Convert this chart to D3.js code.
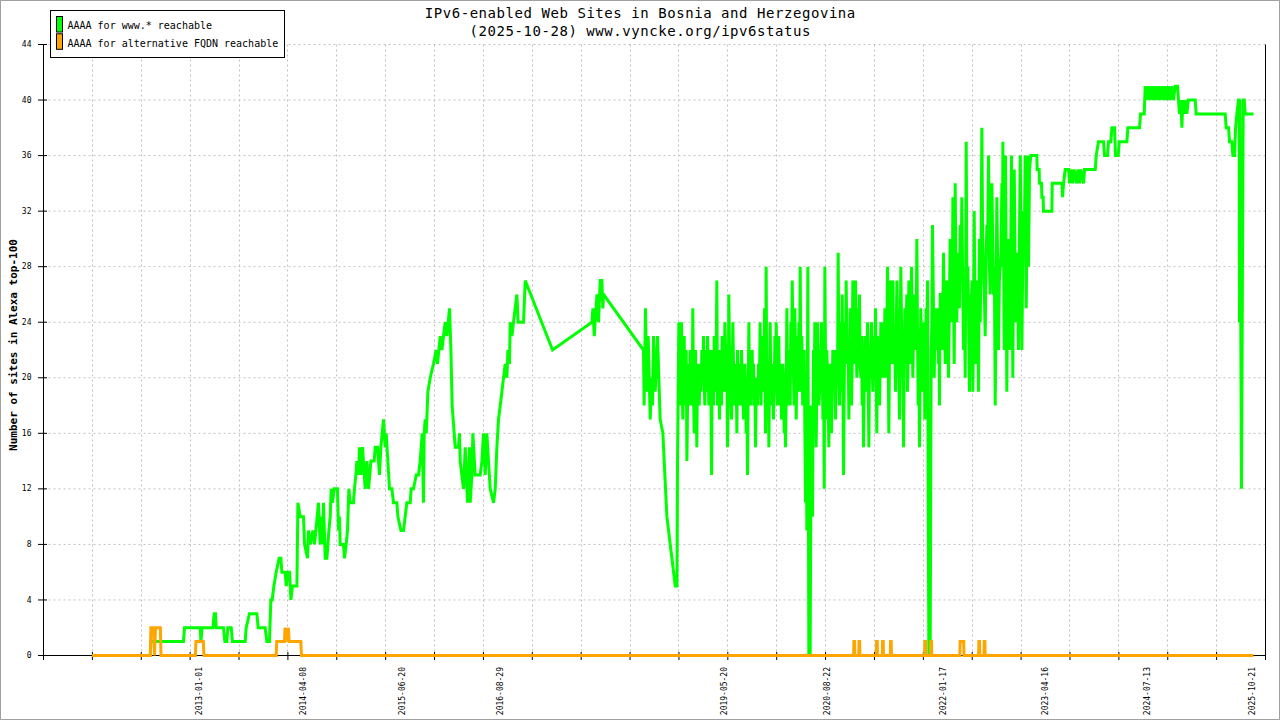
<!DOCTYPE html>
<html>
<head>
<meta charset="utf-8">
<script src="https://cdn.jsdelivr.net/npm/d3@7"></script>
<style>
  body { margin: 0; background: #fff; }
  svg { display: block; font-family: "DejaVu Sans Mono", monospace; }
</style>
</head>
<body>
<svg id="chart" width="1280" height="720"></svg>
<script>
// Settings / data
const titleLines = [
  "IPv6-enabled Web Sites in Bosnia and Herzegovina",
  "(2025-10-28) www.vyncke.org/ipv6status"
];
const yTitle = "Number of sites in Alexa top-100";
const legendLabels = ["AAAA for www.* reachable", "AAAA for alternative FQDN reachable"];
const seriesColors = ["#00ff00", "#ffa500"];
const xDomainYears = [2011.103, 2025.965];
const xTickIntervals = 25;
const yTicks = [0, 4, 8, 12, 16, 20, 24, 28, 32, 36, 40, 44];
const dateLabels = ["2013-01-01", "2014-04-08", "2015-06-20", "2016-08-29", "2019-05-20",
  "2020-08-22", "2022-01-17", "2023-04-16", "2024-07-13", "2025-10-21"];

// [decimal year, sites] for AAAA on www.*
const wwwReach = [
  [2011.695,0],[2012.400,0],[2012.409,1],[2012.805,1],[2012.818,2],[2013.009,2],[2013.017,1],[2013.033,2],
  [2013.163,2],[2013.179,3],[2013.195,3],[2013.203,2],[2013.292,2],[2013.309,1],[2013.333,1],[2013.345,2],
  [2013.386,2],[2013.401,1],[2013.556,1],[2013.568,2],[2013.608,3],[2013.698,3],[2013.714,2],[2013.799,2],
  [2013.820,1],[2013.851,1],[2013.868,4],[2013.884,4],[2013.905,5],[2013.933,6],[2013.969,7],[2013.990,7],
  [2014.002,6],[2014.042,6],[2014.055,5],[2014.075,6],[2014.095,6],[2014.112,4],[2014.131,5],[2014.185,5],
  [2014.197,11],[2014.225,10],[2014.265,10],[2014.278,8],[2014.314,7],[2014.326,9],[2014.347,8],[2014.379,9],
  [2014.399,8],[2014.416,9],[2014.447,11],[2014.468,8],[2014.480,10],[2014.501,8],[2014.508,11],[2014.529,7],
  [2014.550,7],[2014.574,9],[2014.590,10],[2014.602,12],[2014.618,11],[2014.638,12],[2014.678,12],[2014.691,9],
  [2014.703,10],[2014.711,8],[2014.751,8],[2014.764,7],[2014.784,8],[2014.800,9],[2014.817,12],[2014.833,11],
  [2014.873,11],[2014.885,12],[2014.902,13],[2014.914,14],[2014.934,13],[2014.946,15],[2014.963,13],[2014.983,15],
  [2015.015,12],[2015.036,14],[2015.056,12],[2015.085,14],[2015.125,14],[2015.137,15],[2015.165,15],[2015.189,13],
  [2015.206,15],[2015.238,17],[2015.259,15],[2015.271,16],[2015.291,14],[2015.311,12],[2015.340,12],[2015.360,11],
  [2015.401,11],[2015.413,10],[2015.450,9],[2015.481,9],[2015.502,10],[2015.522,11],[2015.563,11],[2015.575,12],
  [2015.603,12],[2015.636,13],[2015.664,13],[2015.684,14],[2015.709,16],[2015.724,11],[2015.733,16],[2015.745,17],
  [2015.758,16],[2015.778,19],[2015.806,20],[2015.846,21],[2015.879,22],[2015.895,21],[2015.928,23],[2015.948,22],
  [2015.988,24],[2016.009,23],[2016.041,25],[2016.058,22],[2016.073,18],[2016.098,16],[2016.110,15],[2016.150,15],
  [2016.162,16],[2016.171,14],[2016.191,13],[2016.211,12],[2016.232,15],[2016.260,11],[2016.284,15],[2016.293,11],
  [2016.313,13],[2016.325,16],[2016.353,13],[2016.414,13],[2016.435,14],[2016.454,16],[2016.475,13],[2016.495,16],
  [2016.515,14],[2016.536,12],[2016.576,11],[2016.597,12],[2016.617,15],[2016.637,17],[2016.658,18],[2016.678,19],
  [2016.718,21],[2016.739,20],[2016.751,22],[2016.770,21],[2016.779,24],[2016.800,23],[2016.819,24],[2016.860,26],
  [2016.876,24],[2016.941,24],[2016.962,27],[2017.294,22],[2017.773,24],[2017.785,25],[2017.801,23],[2017.834,26],
  [2017.853,24],[2017.874,27],[2017.894,27],[2017.906,25],[2017.914,26],[2018.400,22],
  [2018.408,18],[2018.424,25],[2018.441,19],[2018.457,23],[2018.482,17],[2018.498,20],[2018.510,18],[2018.522,23],
  [2018.543,19],[2018.571,23],[2018.603,17],[2018.636,16],[2018.652,14],[2018.668,12],[2018.685,10],[2018.705,9],
  [2018.725,8],[2018.746,7],[2018.766,6],[2018.786,5],[2018.807,5],[2018.814,14],
  [2018.830,24],[2018.846,18],[2018.863,24],[2018.879,17],[2018.895,23],[2018.911,20],[2018.928,14],[2018.948,21],
  [2018.968,22],[2018.988,18],[2019.000,25],[2019.017,16],[2019.033,22],[2019.049,15],[2019.065,19],[2019.090,21],
  [2019.110,22],[2019.130,23],[2019.146,18],[2019.163,20],[2019.179,23],[2019.195,18],[2019.211,22],[2019.228,13],
  [2019.244,20],[2019.260,23],[2019.276,19],[2019.292,27],[2019.309,21],[2019.325,17],[2019.341,20],[2019.357,23],
  [2019.373,19],[2019.390,24],[2019.406,19],[2019.422,15],[2019.438,26],[2019.454,20],[2019.471,17],[2019.487,24],
  [2019.503,19],[2019.519,21],[2019.536,16],[2019.552,20],[2019.568,19],[2019.584,18],[2019.600,20],[2019.617,17],
  [2019.633,21],[2019.649,16],[2019.665,13],[2019.682,24],[2019.698,20],[2019.714,21],[2019.730,19],[2019.746,18],
  [2019.763,15],[2019.779,20],[2019.799,21],[2019.819,24],[2019.840,23],[2019.860,22],[2019.872,25],[2019.884,16],
  [2019.892,28],[2019.908,20],[2019.925,15],[2019.941,24],[2019.961,20],[2019.981,17],[2019.998,23],[2020.014,24],
  [2020.030,18],[2020.046,23],[2020.063,20],[2020.079,17],[2020.095,21],[2020.111,16],[2020.128,15],[2020.144,25],
  [2020.160,20],[2020.176,22],[2020.192,24],[2020.209,27],[2020.225,20],[2020.241,25],[2020.257,17],[2020.273,23],
  [2020.290,24],[2020.306,28],[2020.326,23],[2020.346,20],[2020.363,16],[2020.371,11],[2020.379,18],[2020.387,9],
  [2020.399,28],[2020.411,0],[2020.427,0],[2020.440,18],[2020.456,10],[2020.468,22],[2020.484,24],[2020.500,15],
  [2020.517,24],[2020.533,18],[2020.549,22],[2020.565,24],[2020.582,17],[2020.598,12],[2020.606,28],[2020.622,17],
  [2020.638,20],[2020.654,15],[2020.671,21],[2020.687,16],[2020.703,22],[2020.719,19],[2020.736,17],[2020.752,22],
  [2020.768,29],[2020.784,18],[2020.800,22],[2020.817,26],[2020.833,13],[2020.849,24],[2020.865,27],[2020.881,21],
  [2020.898,17],[2020.914,25],[2020.930,18],[2020.946,27],[2020.963,22],[2020.979,27],[2020.995,20],[2021.011,25],
  [2021.027,26],[2021.044,20],[2021.060,18],[2021.076,15],[2021.092,23],[2021.108,20],[2021.125,24],[2021.141,15],
  [2021.157,20],[2021.173,24],[2021.190,19],[2021.206,23],[2021.222,25],[2021.238,16],[2021.254,21],[2021.271,18],
  [2021.287,24],[2021.303,21],[2021.319,24],[2021.336,25],[2021.352,20],[2021.368,28],[2021.384,16],[2021.400,27],
  [2021.417,21],[2021.433,27],[2021.449,23],[2021.465,19],[2021.482,27],[2021.498,22],[2021.514,17],[2021.530,28],
  [2021.546,20],[2021.563,15],[2021.579,25],[2021.595,24],[2021.611,19],[2021.628,27],[2021.644,21],[2021.660,28],
  [2021.676,20],[2021.692,25],[2021.709,22],[2021.725,30],[2021.741,18],[2021.757,15],[2021.773,25],[2021.790,19],
  [2021.806,22],[2021.822,17],[2021.838,25],[2021.855,27],[2021.863,11],[2021.871,0],[2021.887,0],[2021.899,22],
  [2021.915,31],[2021.936,20],[2021.952,25],[2021.968,22],[2021.988,21],[2022.000,18],
  [2022.009,26],[2022.029,22],[2022.049,29],[2022.070,21],[2022.090,27],[2022.110,20],[2022.130,30],[2022.151,24],
  [2022.163,33],[2022.179,21],[2022.191,34],[2022.211,24],[2022.232,26],[2022.252,31],[2022.272,33],[2022.293,22],
  [2022.313,20],[2022.325,37],[2022.345,28],[2022.365,19],[2022.386,25],[2022.406,19],[2022.422,32],[2022.438,21],
  [2022.455,27],[2022.475,19],[2022.495,24],[2022.515,38],[2022.536,28],[2022.556,23],[2022.576,31],[2022.597,36],
  [2022.617,26],[2022.637,34],[2022.657,26],[2022.678,18],[2022.698,33],[2022.718,22],[2022.738,28],[2022.759,34],
  [2022.771,37],[2022.787,22],[2022.803,36],[2022.819,19],[2022.840,30],[2022.860,22],[2022.876,36],[2022.892,20],
  [2022.909,35],[2022.925,24],[2022.941,29],[2022.961,22],[2022.982,36],[2023.002,22],[2023.022,32],[2023.042,36],
  [2023.055,25],[2023.071,36],[2023.083,28],[2023.095,35],[2023.111,36],[2023.184,36],[2023.188,35],[2023.212,35],
  [2023.216,34],[2023.241,34],[2023.245,33],[2023.261,33],[2023.265,32],[2023.367,32],[2023.371,34],[2023.489,34],
  [2023.497,33],[2023.509,34],
  [2023.529,35],[2023.570,35],[2023.582,34],[2023.598,35],[2023.622,34],[2023.638,35],[2023.671,34],[2023.683,35],
  [2023.703,34],[2023.719,35],[2023.752,34],[2023.764,35],[2023.894,35],[2023.906,36],[2023.934,37],[2023.995,37],
  [2024.007,36],[2024.044,36],[2024.056,37],[2024.084,37],[2024.097,38],[2024.129,38],[2024.141,36],[2024.174,36],
  [2024.186,37],[2024.279,37],[2024.291,38],[2024.433,38],[2024.445,39],[2024.490,39],[2024.502,41],[2024.522,40],
  [2024.542,41],[2024.563,40],[2024.583,41],[2024.603,40],[2024.623,41],[2024.644,40],[2024.664,41],[2024.684,40],
  [2024.705,41],[2024.725,40],[2024.745,41],[2024.765,40],[2024.786,41],[2024.806,40],[2024.826,41],[2024.846,40],
  [2024.867,41],[2024.895,41],[2024.907,40],[2024.919,39],[2024.936,40],[2024.948,38],[2024.960,40],[2024.976,39],
  [2024.993,40],[2025.009,39],[2025.025,40],[2025.110,40],[2025.122,39],[2025.475,39],[2025.487,38],[2025.516,38],
  [2025.528,37],[2025.556,37],[2025.568,36],[2025.589,36],[2025.601,38],[2025.617,39],[2025.637,40],[2025.645,40],
  [2025.649,24],[2025.653,40],[2025.673,12],[2025.694,40],[2025.706,40],[2025.718,39],[2025.819,39]
];

// further readings inside the dense 2018-2023 band (merged by date below)
const wwwDense = [
  [2018.838,21],[2018.854,22],[2018.871,19],[2018.887,21],[2018.903,18],[2018.920,22],[2018.938,19],[2018.958,18],
  [2018.978,21],[2018.994,20],[2019.008,19],[2019.025,20],[2019.041,18],[2019.057,21],[2019.078,18],[2019.100,19],
  [2019.120,20],[2019.138,20],[2019.155,22],[2019.171,19],[2019.187,21],[2019.203,19],[2019.220,19],[2019.236,22],
  [2019.252,18],[2019.268,21],[2019.284,21],[2019.300,18],[2019.317,19],[2019.333,22],[2019.349,18],[2019.365,21],
  [2019.382,20],[2019.398,22],[2019.414,21],[2019.430,18],[2019.446,22],[2019.463,19],[2019.479,20],[2019.495,21],
  [2019.511,18],[2019.528,20],[2019.544,22],[2019.560,18],[2019.576,21],[2019.592,22],[2019.609,19],[2019.625,18],
  [2019.641,19],[2019.657,20],[2019.673,19],[2019.690,18],[2019.706,18],[2019.722,22],[2019.738,21],[2019.755,20],
  [2019.771,19],[2019.789,18],[2019.809,19],[2019.830,18],[2019.850,20],[2019.866,19],[2019.878,21],[2019.888,20],
  [2019.900,18],[2019.917,21],[2019.933,20],[2019.951,18],[2019.971,21],[2019.990,19],[2020.006,19],[2020.022,21],
  [2020.038,19],[2020.055,18],[2020.071,21],[2020.087,19],[2020.103,20],[2020.120,19],[2020.136,19],[2020.152,18],
  [2020.168,19],[2020.184,18],[2020.201,21],[2020.217,23],[2020.233,18],[2020.249,21],[2020.265,20],[2020.282,19],
  [2020.298,20],[2020.316,19],[2020.336,18],[2020.355,22],
  [2020.462,17],[2020.476,19],[2020.492,20],[2020.508,19],[2020.525,21],[2020.541,19],[2020.557,20],[2020.574,21],
  [2020.590,20],[2020.614,21],[2020.630,22],[2020.646,19],[2020.662,18],[2020.679,20],[2020.695,19],[2020.711,21],
  [2020.727,22],[2020.744,20],[2020.760,20],[2020.776,21],[2020.792,24],[2020.808,19],[2020.825,20],[2020.841,19],
  [2020.857,21],[2020.873,23],[2020.890,22],[2020.906,20],[2020.922,22],[2020.938,21],[2020.955,23],[2020.971,21],
  [2020.987,23],[2021.003,21],[2021.019,22],[2021.035,21],[2021.052,23],[2021.068,22],[2021.084,20],[2021.100,22],
  [2021.116,19],[2021.133,20],[2021.149,22],[2021.165,22],[2021.181,21],[2021.198,21],[2021.214,20],[2021.230,20],
  [2021.246,23],[2021.262,22],[2021.279,21],[2021.295,20],[2021.311,22],[2021.327,20],[2021.344,22],[2021.360,23],
  [2021.376,22],[2021.392,22],[2021.408,23],[2021.425,24],[2021.441,21],[2021.457,22],[2021.473,23],[2021.490,24],
  [2021.506,20],[2021.522,23],[2021.538,24],[2021.554,22],[2021.571,21],[2021.587,21],[2021.603,26],[2021.619,22],
  [2021.636,24],[2021.652,23],[2021.668,24],[2021.684,23],[2021.700,26],[2021.717,24],[2021.733,23],[2021.749,22],
  [2021.765,21],[2021.781,23],[2021.798,24],[2021.814,24],[2021.830,22],[2021.846,23],
  [2021.907,24],[2021.925,26],[2021.944,24],[2021.960,23],[2021.978,25],[2021.994,24],[2022.004,23],[2022.019,26],
  [2022.039,24],[2022.059,25],[2022.080,24],[2022.100,25],[2022.120,25],[2022.140,26],[2022.157,27],[2022.171,26],
  [2022.185,28],[2022.201,27],[2022.222,29],[2022.242,25],[2022.262,27],[2022.282,27],[2022.303,26],[2022.319,28],
  [2022.335,25],[2022.355,24],[2022.375,26],[2022.396,27],[2022.414,24],[2022.430,26],[2022.446,25],[2022.465,26],
  [2022.485,30],[2022.505,28],[2022.525,30],[2022.546,26],[2022.566,28],[2022.586,30],[2022.607,28],[2022.627,30],
  [2022.647,30],[2022.667,28],[2022.688,26],[2022.708,28],[2022.728,27],[2022.749,29],[2022.765,28],[2022.779,30],
  [2022.795,29],[2022.811,28],[2022.829,27],[2022.850,28],[2022.868,30],[2022.884,28],[2022.901,29],[2022.917,30],
  [2022.933,28],[2022.951,26],[2022.971,29],[2022.992,30],[2023.012,28],[2023.032,30]
];

// [decimal year, sites] for AAAA on alternative FQDN
const altReach = [
  [2011.695,0],[2012.404,0],[2012.409,2],[2012.441,2],[2012.453,0],[2012.465,2],[2012.524,2],[2012.532,0],
  [2012.950,0],[2012.957,1],[2013.047,1],[2013.054,0],
  [2013.933,0],[2013.939,1],[2014.034,1],[2014.040,2],[2014.052,1],[2014.062,2],[2014.073,1],[2014.082,2],
  [2014.090,1],[2014.233,1],[2014.240,0],
  [2020.956,0],[2020.959,1],[2020.967,1],[2020.970,0],
  [2021.018,0],[2021.021,1],[2021.029,1],[2021.032,0],
  [2021.232,0],[2021.235,1],[2021.243,1],[2021.246,0],
  [2021.305,0],[2021.308,1],[2021.316,1],[2021.319,0],
  [2021.402,0],[2021.405,1],[2021.413,1],[2021.416,0],
  [2021.819,0],[2021.822,1],[2021.830,1],[2021.833,0],
  [2021.892,0],[2021.895,1],[2021.903,1],[2021.906,0],
  [2022.248,0],[2022.251,1],[2022.295,1],[2022.298,0],
  [2022.476,0],[2022.479,1],[2022.487,1],[2022.490,0],
  [2022.541,0],[2022.544,1],[2022.552,1],[2022.555,0],
  [2025.819,0]
];

const yearToDate = (yr) => new Date(Date.UTC(2013, 0, 1) + (yr - 2013) * 365.25 * 864e5);
const parseDay = d3.utcParse("%Y-%m-%d");

const svg = d3.select("#chart");
const plot = { left: 43, right: 1265, top: 44, bottom: 655 };

// outer frame
svg.append("rect")
  .attr("x", 0.5).attr("y", 0.5).attr("width", 1279).attr("height", 719)
  .attr("fill", "#fff").attr("stroke", "#a0a0a0");

const xScale = d3.scaleTime()
  .domain(xDomainYears.map(yearToDate))
  .range([plot.left, plot.right]);
const yScale = d3.scaleLinear()
  .domain([0, 44])
  .range([plot.bottom, plot.top]);

const [t0, t1] = xScale.domain();
const xTicks = d3.range(xTickIntervals + 1).map((i) => new Date(+t0 + (t1 - t0) * i / xTickIntervals));

// grid
const grid = svg.append("g")
  .attr("stroke", "#c0c0c0").attr("stroke-width", 1).attr("stroke-dasharray", "2,3");
grid.selectAll("line.h").data(yTicks.slice(1)).join("line")
  .attr("class", "h")
  .attr("x1", plot.left + 0.5).attr("x2", plot.right + 0.5)
  .attr("y1", (d) => yScale(d) + 0.5).attr("y2", (d) => yScale(d) + 0.5);
grid.selectAll("line.v").data(xTicks.slice(1, -1)).join("line")
  .attr("class", "v")
  .attr("x1", (d) => Math.round(xScale(d)) + 0.5).attr("x2", (d) => Math.round(xScale(d)) + 0.5)
  .attr("y1", plot.top + 0.5).attr("y2", plot.bottom + 0.5);

// y-Axis
const yAxis = d3.axisLeft(yScale).tickValues(yTicks).tickSize(5).tickSizeOuter(0).tickPadding(6.5);
const yAxisG = svg.append("g").attr("transform", `translate(${plot.left},0)`).call(yAxis);
yAxisG.attr("font-family", "DejaVu Sans Mono, monospace").attr("font-size", 8);
yAxisG.selectAll(".tick line").attr("x1", 4);

// x-Axis (ticks only, labels sit at their own dates)
const xAxis = d3.axisBottom(xScale).tickValues(xTicks).tickSize(5).tickSizeOuter(0).tickFormat(() => "");
const xAxisG = svg.append("g").attr("transform", `translate(0,${plot.bottom})`).call(xAxis);
xAxisG.selectAll(".tick line").attr("y1", -3);
svg.append("line")
  .attr("x1", 38).attr("x2", plot.left + 0.5)
  .attr("y1", plot.bottom + 0.5).attr("y2", plot.bottom + 0.5)
  .attr("stroke", "#000");
svg.append("line")
  .attr("x1", plot.right + 0.5).attr("x2", plot.right + 0.5)
  .attr("y1", plot.top + 0.5).attr("y2", plot.bottom + 0.5)
  .attr("stroke", "#000");

svg.append("g")
  .selectAll("text").data(dateLabels).join("text")
  .attr("transform", (d) => `translate(${xScale(parseDay(d)) + 3.4},667) rotate(-90)`)
  .attr("text-anchor", "end")
  .attr("font-size", 8)
  .attr("fill", "#000")
  .text((d) => d);

// lines
const lineGen = d3.line()
  .x((d) => xScale(yearToDate(d[0])) + 0.5)
  .y((d) => yScale(d[1]) + 0.5);
const wwwSeries = d3.sort(wwwReach.concat(wwwDense), (d) => d[0]);
[wwwSeries, altReach].forEach((series, i) => {
  svg.append("path")
    .attr("d", lineGen(series))
    .attr("fill", "none")
    .attr("stroke", seriesColors[i])
    .attr("stroke-width", 3)
    .attr("stroke-linejoin", "miter");
});

// y title
svg.append("text")
  .attr("transform", "translate(17,345) rotate(-90)")
  .attr("text-anchor", "middle")
  .attr("font-size", 11)
  .attr("font-weight", "bold")
  .text(yTitle);

// title
svg.append("g")
  .selectAll("text").data(titleLines).join("text")
  .attr("x", 640)
  .attr("y", (d, i) => 18.4 + i * 17.4)
  .attr("text-anchor", "middle")
  .attr("font-size", 14)
  .attr("textLength", (d) => d.length * 8.97)
  .attr("lengthAdjust", "spacing")
  .text((d) => d);

// legend
const legend = svg.append("g");
legend.append("rect")
  .attr("x", 50.5).attr("y", 10.5).attr("width", 234).attr("height", 47)
  .attr("fill", "#fff").attr("stroke", "#000");
legendLabels.forEach((label, i) => {
  legend.append("rect")
    .attr("x", 56.5).attr("y", 16.5 + i * 17.3).attr("width", 6).attr("height", 15.5)
    .attr("fill", seriesColors[i]).attr("stroke", "#000");
  legend.append("text")
    .attr("x", 67.5).attr("y", 29.4 + i * 17.3)
    .attr("font-size", 10)
    .text(label);
});
</script>
</body>
</html>
